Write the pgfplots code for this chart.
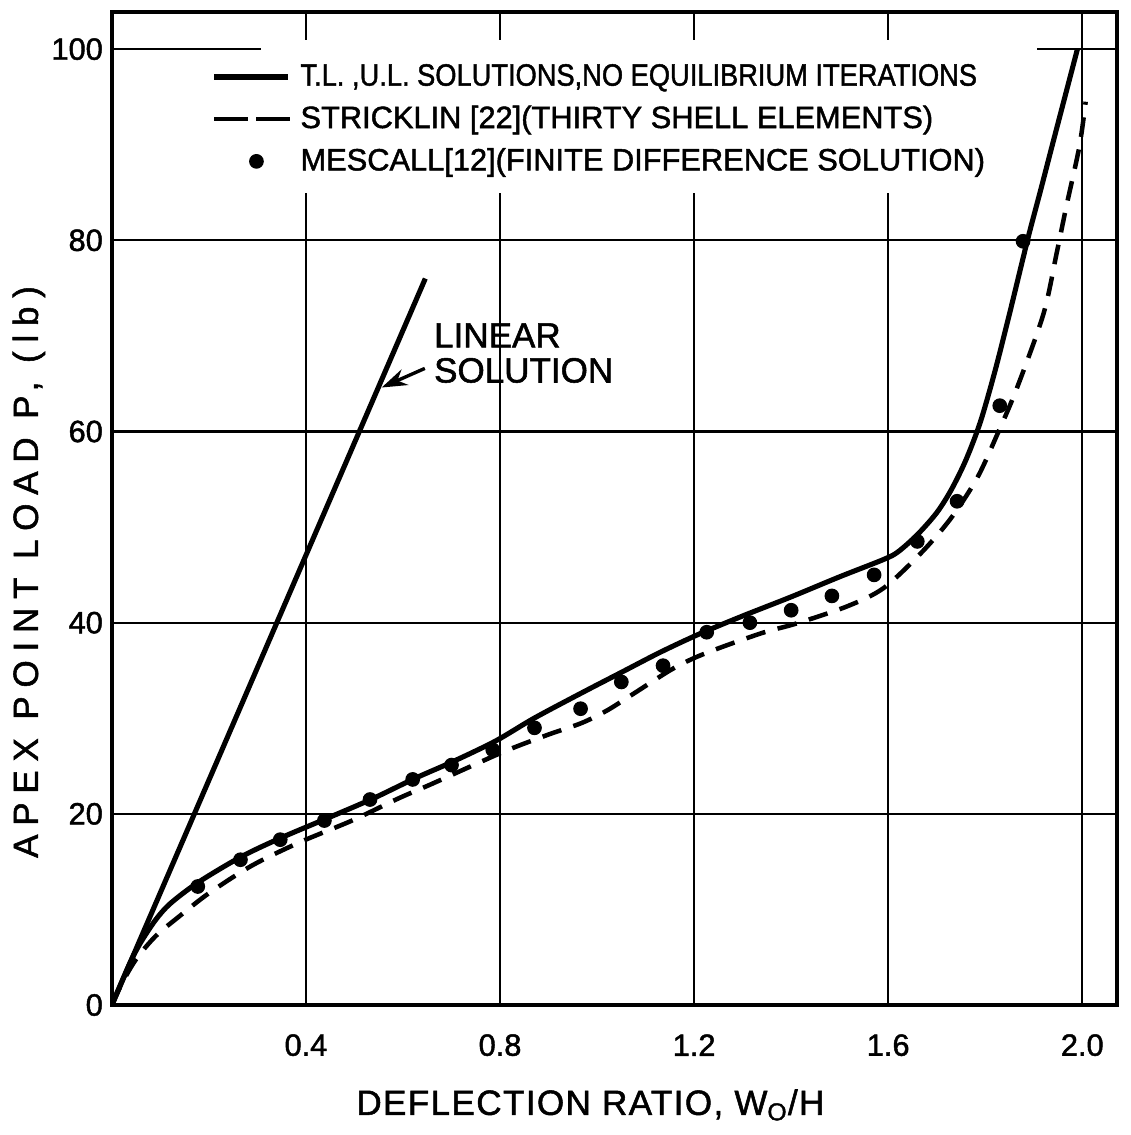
\documentclass[border=0pt]{standalone}
\usepackage{fontspec}
\usepackage{graphicx}
\setmainfont{Liberation Sans}[FakeBold=1.5]
\newfontfamily\ylabfont{Liberation Sans}[LetterSpace=25,FakeBold=1.5]
\newfontfamily\xlabfont{Liberation Sans}[LetterSpace=4,FakeBold=1.5]
\usepackage{pgfplots}
\pgfplotsset{compat=1.18}
\usetikzlibrary{arrows.meta}

\pgfplotsset{
  solidleg/.style={legend image code/.code={\draw[##1] (0pt,0pt) -- (26pt,0pt);}},
  dashleg/.style={legend image code/.code={\draw[##1, dash pattern=on 12pt off 3pt] (0pt,0pt) -- (27pt,0pt);}},
  dotleg/.style={legend image code/.code={\path[draw=none,fill=none] (0pt,0pt) -- (26pt,0pt); \draw[##1] plot coordinates {(15pt,0pt)};}},
}

\pgfplotstableread{
x y
0 0
0.02 2.4
0.04 4.7
0.06 6.6
0.09 8.9
0.12 10.6
0.177 12.8
0.266 15.5
0.349 17.5
0.442 19.5
0.538 21.6
0.624 23.7
0.70 25.4
0.79 27.6
0.87 30.0
0.97 32.7
1.05 34.8
1.13 36.9
1.21 38.8
1.30 40.7
1.40 42.7
1.50 44.8
1.59 46.6
1.62 47.4
1.66 49.2
1.70 51.5
1.73 53.9
1.76 57.0
1.79 61.0
1.82 66.3
1.85 72.3
1.888 80.2
1.915 85.4
1.94 90.3
1.99 100
}\solid

\pgfplotstableread{
x y
0 0
0.02 2.2
0.05 4.8
0.09 7.2
0.137 9.2
0.20 11.7
0.289 14.6
0.386 17.0
0.495 19.3
0.59 21.6
0.658 23.1
0.741 25.0
0.817 26.7
0.90 28.3
0.968 29.5
1.02 30.8
1.07 32.4
1.15 35.0
1.20 36.3
1.26 37.5
1.345 39.0
1.41 39.9
1.515 41.7
1.59 43.6
1.668 47.3
1.729 50.9
1.783 55.1
1.824 59.6
1.865 64.5
1.92 72.3
1.947 78.6
1.967 83.5
1.994 89.8
2.007 94.5
}\stricklin

\pgfplotstableread{
x y
0.177 12.4
0.265 15.2
0.347 17.3
0.438 19.3
0.532 21.5
0.62 23.6
0.70 25.1
0.785 26.7
0.871 29.0
0.966 31.0
1.05 33.8
1.136 35.5
1.226 39.0
1.315 40.0
1.40 41.3
1.484 42.8
1.571 45.0
1.66 48.5
1.742 52.7
1.830 62.7
1.878 79.9
}\mescall

\pgfplotstableread{
x y
0 0
0.646 76.0
}\linear

\begin{document}
\begin{tikzpicture}
\useasboundingbox (-39.6pt,-46pt) rectangle (360.4pt,355.7pt);
\begin{axis}[
  scale only axis, width=355.8pt, height=351.5pt,
  xmin=0, xmax=2.072, ymin=0, ymax=103.9,
  axis line style={line width=1.3pt},
  xtick={0.4,0.8,1.2,1.6,2.0}, xticklabels={0.4,0.8,1.2,1.6,2.0},
  ytick={0,20,40,60,80,100}, yticklabels={0,20,40,60,80,100},
  major tick length=0pt,
  xmajorgrids, ymajorgrids,
  major grid style={line width=0.75pt, black},
  tick label style={font=\fontsize{10.9}{12}\selectfont, /pgf/number format/assume math mode=true},
  xticklabel style={anchor=center, yshift=-14.2pt},
  yticklabel style={anchor=east, inner sep=0pt, xshift=-3pt},
  xlabel={DEFLECTION RATIO, W\textsubscript{O}/H},
  ylabel={APEX POINT LOAD P, (lb)},
  xlabel style={at={(axis description cs:0.476,-0.1007)}, anchor=center, font=\xlabfont\fontsize{12.4}{14}\selectfont},
  ylabel style={at={(axis description cs:-0.0826,0.436)}, anchor=center, font=\ylabfont\fontsize{12.4}{14}\selectfont},
  legend style={at={(rel axis cs:0.0873,0.965)}, anchor=north west, fill=none, draw=none,
    font=\fontsize{10.9}{12}\selectfont, inner xsep=4pt, inner ysep=4pt,
    row sep=1.6pt, column sep=0.8pt},
  legend cell align=left,
]
\fill[white] (rel axis cs:0.148,0.818) rectangle (rel axis cs:0.920,0.972);

\addplot[black, line width=1.8pt, forget plot] table {\linear};

\addplot[black, line width=1.8pt, smooth, tension=0.5, solidleg] table {\solid};
\addlegendentry{\scalebox{0.885}[1]{T.L. ,U.L. SOLUTIONS,NO EQUILIBRIUM ITERATIONS}}

\addplot[black, line width=1.6pt, smooth, tension=0.5, dash pattern=on 7pt off 4.5pt, dashleg] table {\stricklin};
\addlegendentry{STRICKLIN [22](THIRTY SHELL ELEMENTS)}

\addplot[black, only marks, mark=*, mark size=2.4pt, dotleg] table {\mescall};
\addlegendentry{MESCALL[12](FINITE DIFFERENCE SOLUTION)}

\node[anchor=west, align=left, inner sep=0pt, font=\fontsize{12.4}{12.4}\selectfont] at (axis cs:0.663,68.2) {LINEAR\\SOLUTION};
\draw[black, line width=1.2pt, -{Stealth[length=9pt,width=6pt]}] (axis cs:0.645,66.6) -- (axis cs:0.556,64.6);
\end{axis}
\end{tikzpicture}
\end{document}
